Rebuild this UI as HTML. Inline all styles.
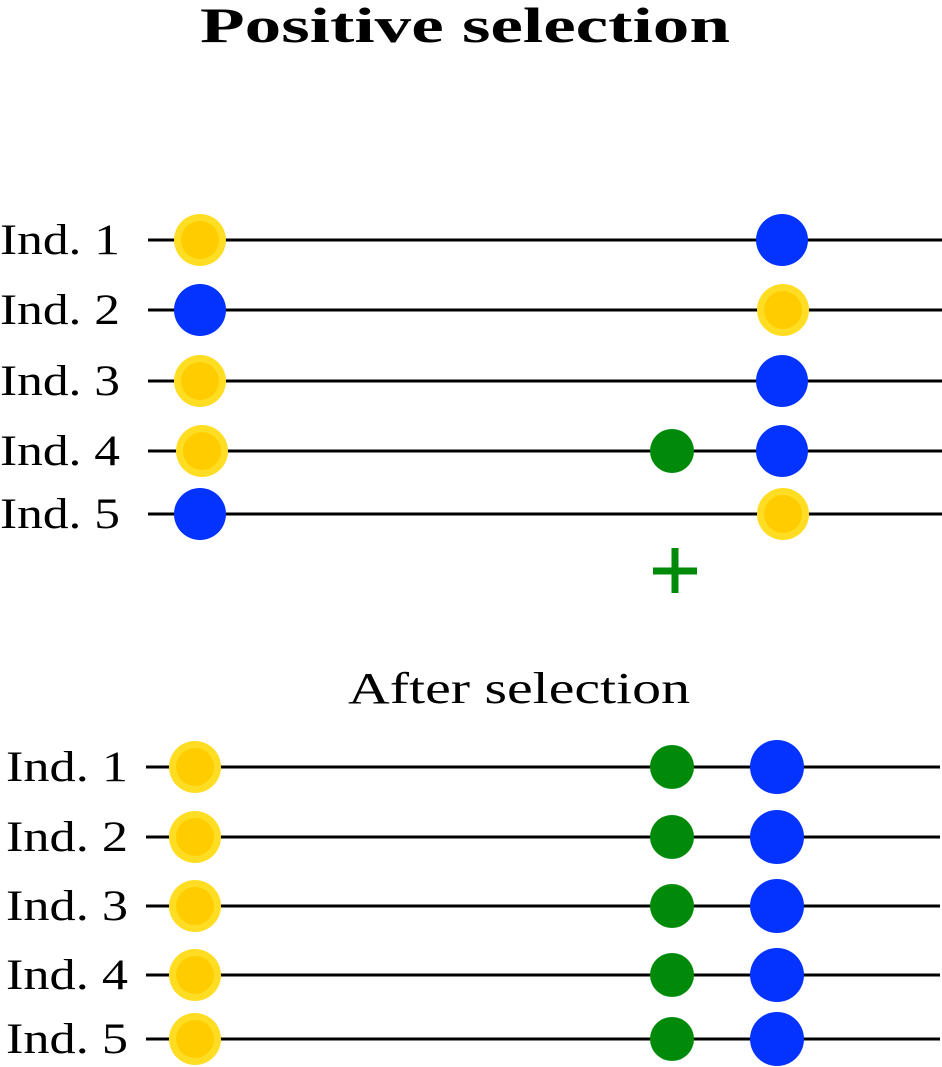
<!DOCTYPE html>
<html><head><style>
html,body{margin:0;padding:0;background:#fff;}
svg{display:block;}
text{font-family:"Liberation Serif",serif;fill:#000;}
</style></head><body>
<svg width="942" height="1067" viewBox="0 0 942 1067" xmlns="http://www.w3.org/2000/svg">
<text x="200" y="42" font-size="50" font-weight="bold" textLength="530" lengthAdjust="spacingAndGlyphs">Positive selection</text>
<g stroke="#000" stroke-width="3">
<line x1="148" y1="240" x2="942" y2="240"/>
<line x1="148" y1="310" x2="942" y2="310"/>
<line x1="148" y1="381" x2="942" y2="381"/>
<line x1="148" y1="451" x2="942" y2="451"/>
<line x1="148" y1="514" x2="942" y2="514"/>
<line x1="146" y1="767" x2="940" y2="767"/>
<line x1="146" y1="837" x2="940" y2="837"/>
<line x1="146" y1="906" x2="940" y2="906"/>
<line x1="146" y1="975" x2="940" y2="975"/>
<line x1="146" y1="1039" x2="940" y2="1039"/>
</g>
<g font-size="43">
<text x="0" y="254" textLength="120" lengthAdjust="spacingAndGlyphs">Ind. 1</text>
<text x="0" y="324" textLength="120" lengthAdjust="spacingAndGlyphs">Ind. 2</text>
<text x="0" y="395" textLength="120" lengthAdjust="spacingAndGlyphs">Ind. 3</text>
<text x="0" y="465" textLength="120" lengthAdjust="spacingAndGlyphs">Ind. 4</text>
<text x="0" y="528" textLength="120" lengthAdjust="spacingAndGlyphs">Ind. 5</text>
<text x="6" y="781" textLength="122" lengthAdjust="spacingAndGlyphs">Ind. 1</text>
<text x="6" y="851" textLength="122" lengthAdjust="spacingAndGlyphs">Ind. 2</text>
<text x="6" y="920" textLength="122" lengthAdjust="spacingAndGlyphs">Ind. 3</text>
<text x="6" y="989" textLength="122" lengthAdjust="spacingAndGlyphs">Ind. 4</text>
<text x="6" y="1053" textLength="122" lengthAdjust="spacingAndGlyphs">Ind. 5</text>
</g>
<defs>
<g id="y"><circle r="26" fill="#FFDD22"/><circle r="19" fill="#FFCC00"/></g>
</defs>
<use href="#y" x="200" y="240"/>
<circle cx="200" cy="310" r="26" fill="#0433FF"/>
<use href="#y" x="200" y="381"/>
<use href="#y" x="202" y="451"/>
<circle cx="200" cy="514" r="26" fill="#0433FF"/>
<circle cx="782" cy="240" r="26" fill="#0433FF"/>
<use href="#y" x="783" y="310"/>
<circle cx="782" cy="381" r="26" fill="#0433FF"/>
<circle cx="782" cy="451" r="26" fill="#0433FF"/>
<use href="#y" x="783" y="514"/>
<circle cx="672" cy="451" r="22" fill="#008A0A"/>
<g stroke="#008A0A" stroke-width="7">
<line x1="653" y1="571" x2="697" y2="571"/>
<line x1="675" y1="548" x2="675" y2="593"/>
</g>
<text x="348" y="703" font-size="44" textLength="342" lengthAdjust="spacingAndGlyphs">After selection</text>
<use href="#y" x="195" y="767"/>
<use href="#y" x="195" y="837"/>
<use href="#y" x="195" y="906"/>
<use href="#y" x="195" y="975"/>
<use href="#y" x="195" y="1039"/>
<g fill="#008A0A">
<circle cx="672" cy="767" r="22"/>
<circle cx="672" cy="837" r="22"/>
<circle cx="672" cy="906" r="22"/>
<circle cx="672" cy="975" r="22"/>
<circle cx="672" cy="1039" r="22"/>
</g>
<g fill="#0433FF">
<circle cx="777" cy="767" r="27"/>
<circle cx="777" cy="837" r="27"/>
<circle cx="777" cy="906" r="27"/>
<circle cx="777" cy="975" r="27"/>
<circle cx="777" cy="1039" r="27"/>
</g>
</svg>
</body></html>
